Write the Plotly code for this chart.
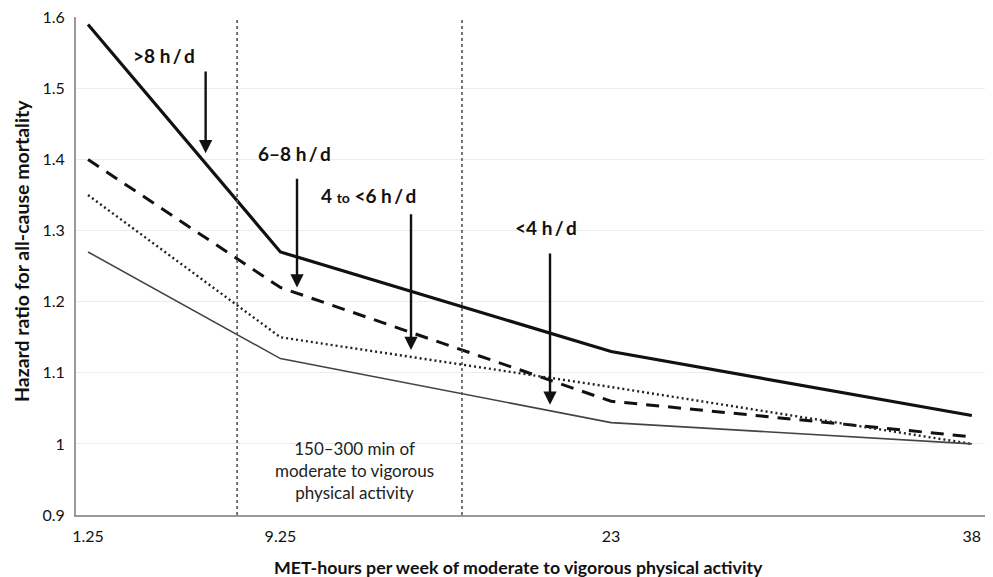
import plotly.graph_objects as go

met_hours = [1.25, 9.25, 23, 38]
hr_over8 = [1.59, 1.27, 1.13, 1.04]
hr_6to8 = [1.40, 1.22, 1.06, 1.01]
hr_4to6 = [1.35, 1.15, 1.08, 1.00]
hr_under4 = [1.27, 1.12, 1.03, 1.00]
guideline_bounds = [7.45, 16.8]
y_ticks = [0.9, 1.0, 1.1, 1.2, 1.3, 1.4, 1.5, 1.6]
y_tick_text = ["0.9", "1", "1.1", "1.2", "1.3", "1.4", "1.5", "1.6"]

FONT = "Lato, 'Open Sans', sans-serif"

fig = go.Figure()
fig.add_trace(go.Scatter(x=met_hours, y=hr_over8, mode="lines",
                         line=dict(color="#111111", width=3.2), name=">8 h/d"))
fig.add_trace(go.Scatter(x=met_hours, y=hr_6to8, mode="lines",
                         line=dict(color="#111111", width=3, dash="13px,9px"), name="6-8 h/d"))
fig.add_trace(go.Scatter(x=met_hours, y=hr_4to6, mode="lines",
                         line=dict(color="#222222", width=2.4, dash="2px,3px"), name="4 to <6 h/d"))
fig.add_trace(go.Scatter(x=met_hours, y=hr_under4, mode="lines",
                         line=dict(color="#444444", width=1.6), name="<4 h/d"))

for xv in guideline_bounds:
    fig.add_shape(type="line", x0=xv, x1=xv, y0=0, y1=1, xref="x", yref="paper",
                  line=dict(color="#555555", width=1.6, dash="dot"))

hs = "\u2009"
arrows = [
    ("&gt;8 h" + hs + "/" + hs + "d", 4.41, 1.547, 6.14, 1.526, 1.409),
    ("6\u20138 h" + hs + "/" + hs + "d", 9.82, 1.409, 9.94, 1.375, 1.22),
    ("4 <span style='font-size:14px'>to</span> &lt;6 h" + hs + "/" + hs + "d", 12.93, 1.35, 14.68, 1.325, 1.132),
    ("&lt;4 h" + hs + "/" + hs + "d", 20.29, 1.305, 20.46, 1.27, 1.055),
]
for text, tx, ty, axv, y_tail, y_head in arrows:
    fig.add_annotation(x=tx, y=ty, text="<b>" + text + "</b>", showarrow=False,
                       font=dict(family=FONT, size=19, color="#111111"))
    fig.add_annotation(x=axv, y=y_head, ax=axv, ay=y_tail, axref="x", ayref="y",
                       text="", showarrow=True, arrowhead=2, arrowsize=1.1,
                       arrowwidth=2.4, arrowcolor="#111111")

fig.add_annotation(x=12.35, y=0.962,
                   text="150\u2013300 min of<br>moderate to vigorous<br>physical activity",
                   showarrow=False, font=dict(family=FONT, size=17, color="#222222"))

# axis titles
fig.add_annotation(x=0.483, xref="paper", y=0, yref="paper", showarrow=False,
                   text="<b>MET-hours per week of moderate to vigorous physical activity</b>",
                   font=dict(family=FONT, size=17.75, color="#111111"),
                   xanchor="center", yanchor="middle", yshift=-52)
fig.add_annotation(x=0, xref="paper", y=0.5, yref="paper", showarrow=False,
                   text="<b>Hazard ratio for all-cause mortality</b>", textangle=-90,
                   font=dict(family=FONT, size=19.5, color="#111111"),
                   xanchor="center", yanchor="middle", xshift=-55, yshift=15)

# the page body adds an 8px margin, so the figure is sized to fit the window
fig.update_layout(
    width=985, height=569,
    margin=dict(l=68, r=0, t=9, b=62, autoexpand=False),
    paper_bgcolor="white", plot_bgcolor="white",
    showlegend=False,
    font=dict(family=FONT, color="#222222"),
)
fig.update_xaxes(range=[0.75, 38.88], tickvals=met_hours,
                 ticktext=[str(v) for v in met_hours],
                 showgrid=False, zeroline=False, automargin=False,
                 showline=True, linecolor="#999999", linewidth=2,
                 ticks="outside", ticklen=6, tickcolor="rgba(0,0,0,0)",
                 ticklabeloverflow="allow",
                 tickfont=dict(family=FONT, size=16, color="#111111"))
fig.update_yaxes(range=[0.9, 1.6005], tickvals=y_ticks, ticktext=y_tick_text,
                 showgrid=True, gridcolor="#ececec", gridwidth=1, zeroline=False,
                 automargin=False,
                 showline=True, linecolor="#999999", linewidth=2,
                 ticks="outside", ticklen=6, tickcolor="rgba(0,0,0,0)",
                 ticklabeloverflow="allow",
                 tickfont=dict(family=FONT, size=16, color="#111111"))

fig.write_html("out.html")
